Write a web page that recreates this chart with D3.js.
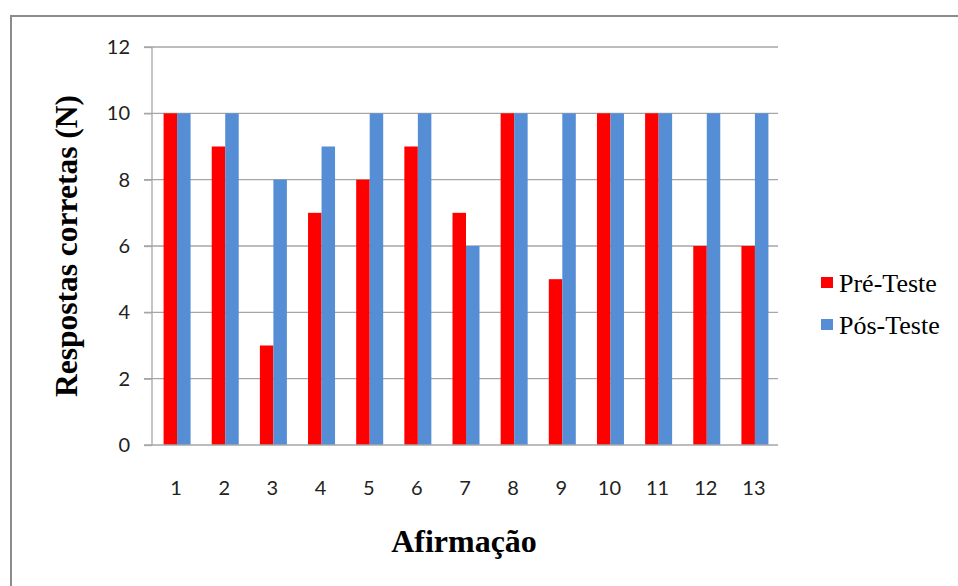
<!DOCTYPE html>
<html>
<head>
<meta charset="utf-8">
<script src="https://cdn.jsdelivr.net/npm/d3@7"></script>
<style>
  html, body { margin: 0; padding: 0; background: #fff; }
  svg { display: block; }
</style>
</head>
<body>
<script>
// Respostas corretas por afirmação, antes e depois
const afirmacoes = ["1","2","3","4","5","6","7","8","9","10","11","12","13"];
const preTeste  = [10, 9, 3, 7, 8, 9, 7, 10, 5, 10, 10, 6, 6];
const posTeste  = [10, 10, 8, 9, 10, 10, 6, 10, 10, 10, 10, 10, 10];
const seriesNames = ["Pré-Teste", "Pós-Teste"];
const seriesColors = ["#ff0000", "#558ed5"];
const yTicks = [0, 2, 4, 6, 8, 10, 12];

const W = 958, H = 586;
const plot = { left: 152, right: 778, top: 47, bottom: 445 };

const svg = d3.select("body").append("svg").attr("width", W).attr("height", H);

// outer frame (only top and left edges fall inside the view)
svg.append("path")
  .attr("d", `M11,${H + 5} L11,16 L${W + 5},16`)
  .attr("fill", "none").attr("stroke", "#8c8c8c").attr("stroke-width", 2);

const x = d3.scaleBand().domain(afirmacoes).range([plot.left, plot.right]).paddingInner(0).paddingOuter(0);
const y = d3.scaleLinear().domain([0, 12]).range([plot.bottom, plot.top]);
const barW = 13.5;

// gridlines
svg.append("g").selectAll("line").data(yTicks.filter(t => t > 0)).join("line")
  .attr("x1", plot.left - 8).attr("x2", plot.right)
  .attr("y1", d => y(d)).attr("y2", d => y(d))
  .attr("stroke", "#a6a6a6").attr("stroke-width", 1.3);

// bars
const data = [preTeste, posTeste];
data.forEach((vals, si) => {
  svg.append("g").selectAll("rect").data(vals).join("rect")
    .attr("x", (d, i) => x(afirmacoes[i]) + x.bandwidth() / 2 - barW + si * barW + 1)
    .attr("width", barW)
    .attr("y", d => y(d))
    .attr("height", d => y(0) - y(d))
    .attr("fill", seriesColors[si]);
});

// y axis
const yAxis = svg.append("g").attr("transform", `translate(${plot.left},0)`)
  .call(d3.axisLeft(y).tickValues(yTicks).tickSize(8).tickPadding(14).tickFormat(d3.format("d")));
yAxis.select(".domain").attr("stroke", "#a6a6a6").attr("stroke-width", 1.3).attr("d", `M0,${plot.top}V${plot.bottom}`);
yAxis.selectAll(".tick line").attr("stroke", "#a6a6a6").attr("stroke-width", 1.3);
yAxis.selectAll("text").attr("font-family", "Lato, 'Open Sans', sans-serif").attr("font-size", 20).attr("fill", "#222");

// x axis
const xAxis = svg.append("g").attr("transform", `translate(0,${plot.bottom})`)
  .call(d3.axisBottom(x).tickSize(0).tickPadding(36));
xAxis.select(".domain").attr("stroke", "#a6a6a6").attr("stroke-width", 1.3).attr("d", `M${plot.left - 8},0H${plot.right}`);
xAxis.selectAll(".tick text").attr("font-family", "Lato, 'Open Sans', sans-serif").attr("font-size", 20).attr("fill", "#222");

// axis titles
svg.append("text")
  .attr("transform", `translate(77,246) rotate(-90)`)
  .attr("text-anchor", "middle")
  .attr("font-family", "'Liberation Serif', 'Times New Roman', serif")
  .attr("font-weight", "bold").attr("font-size", 31.5).attr("fill", "#000")
  .text("Respostas corretas (N)");

svg.append("text")
  .attr("x", 464).attr("y", 552)
  .attr("text-anchor", "middle")
  .attr("font-family", "'Liberation Serif', 'Times New Roman', serif")
  .attr("font-weight", "bold").attr("font-size", 32).attr("fill", "#000")
  .text("Afirmação");

// legend
const legend = svg.append("g").attr("transform", "translate(821,292)");
seriesNames.forEach((name, i) => {
  const g = legend.append("g").attr("transform", `translate(0,${i * 42})`);
  g.append("rect").attr("x", 0).attr("y", -15).attr("width", 12).attr("height", 11).attr("fill", seriesColors[i]);
  g.append("text").attr("x", 18).attr("y", 0)
    .attr("font-family", "'Liberation Serif', 'Times New Roman', serif")
    .attr("font-size", 26).attr("fill", "#000").text(name);
});
</script>
</body>
</html>
